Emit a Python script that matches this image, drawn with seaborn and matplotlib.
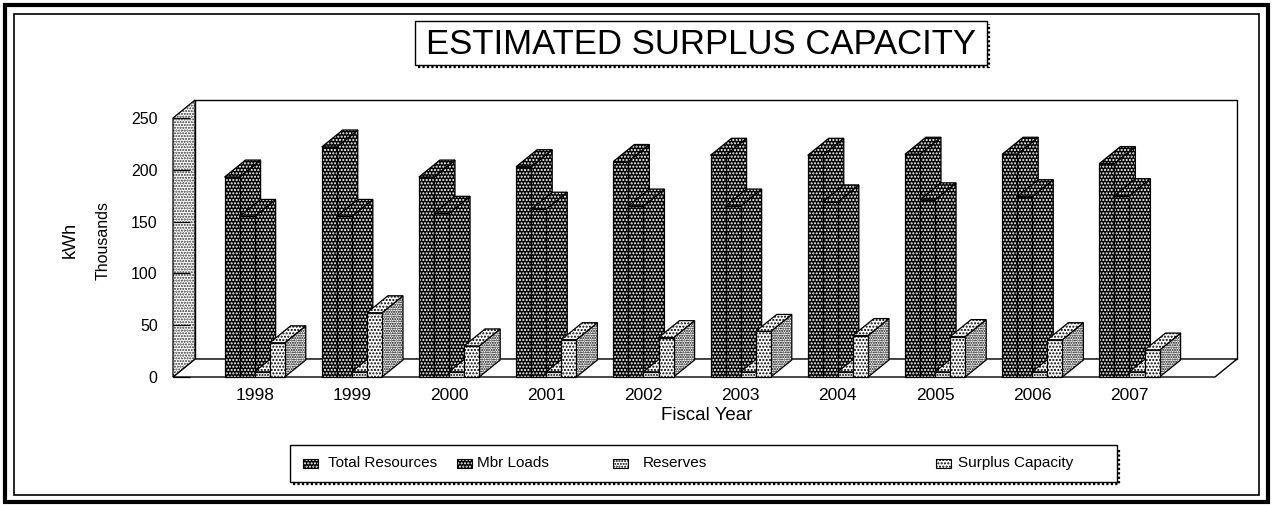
import matplotlib
matplotlib.use("Agg")
import matplotlib.pyplot as plt
from matplotlib.patches import Polygon, Rectangle
from matplotlib.lines import Line2D
import pandas as pd
import seaborn as sns

# ---- data (thousands of kWh) ----
years = ["1998", "1999", "2000", "2001", "2002", "2003", "2004", "2005", "2006", "2007"]
total_resources = [193, 222, 193, 203, 208, 214, 214, 215, 215, 206]
mbr_loads = [155, 155, 158, 162, 165, 165, 169, 171, 174, 175]
reserves = [5, 5, 5, 5, 5, 5, 5, 5, 5, 5]
surplus_capacity = [33, 62, 30, 36, 38, 44, 40, 39, 36, 26]
series_names = ["Total Resources", "Mbr Loads", "Reserves", "Surplus Capacity"]
y_ticks = [0, 50, 100, 150, 200, 250]

data = pd.DataFrame({
    "year": years,
    "Total Resources": total_resources,
    "Mbr Loads": mbr_loads,
    "Reserves": reserves,
    "Surplus Capacity": surplus_capacity,
}).melt(id_vars="year", var_name="series", value_name="kwh")

sns.set_theme(style="white")
plt.rcParams["font.family"] = ["Liberation Sans", "DejaVu Sans"]
plt.rcParams["hatch.linewidth"] = 1.0

# halftone-like face styles: (fill colour, dot colour, hatch)
front_style = {
    "Total Resources": ("#000000", "white", "....."),
    "Mbr Loads": ("#000000", "white", "....."),
    "Reserves": ("white", "black", "......"),
    "Surplus Capacity": ("white", "black", "....."),
}
side_style = {
    "Total Resources": ("#000000", "white", "....."),
    "Mbr Loads": ("#000000", "white", "....."),
    "Reserves": ("white", "black", "......."),
    "Surplus Capacity": ("white", "black", "......."),
}
top_style = {
    "Total Resources": ("#000000", "white", "....."),
    "Mbr Loads": ("#000000", "white", "....."),
    "Reserves": ("white", "black", "....."),
    "Surplus Capacity": ("white", "black", "....."),
}

W, H = 1273, 505
fig = plt.figure(figsize=(W / 100, H / 100), dpi=100)
fig.patch.set_facecolor("white")


def fx(px):
    return px / W


def fy(py):
    return 1 - py / H


# front plane of the 3-D box, in pixels
X0, X1 = 173, 1215
Y0, YTOP = 377, 118
YMAX = 250
ax = fig.add_axes([fx(X0), fy(Y0), (X1 - X0) / W, (Y0 - YTOP) / H])

bar_width = 0.62
sns.barplot(data=data, x="year", y="kwh", hue="series", order=years,
            hue_order=series_names, width=bar_width, saturation=1,
            palette=["#111111", "#222222", "#eeeeee", "#f5f5f5"],
            errorbar=None, legend=False, ax=ax)

xmin, xmax = -0.84, 9.88
ax.set_xlim(xmin, xmax)
ax.set_ylim(0, YMAX)
ax.patch.set_visible(False)
for s in ax.spines.values():
    s.set_visible(False)

ppx = (X1 - X0) / (xmax - xmin)   # pixels per x unit
ppy = (Y0 - YTOP) / YMAX          # pixels per y unit

# depth of the walls and of the columns
dxw, dyw = 22 / ppx, 18 / ppy
dxb, dyb = 21 / ppx, 17 / ppy


def face(verts, style, z, lw=0.9):
    fc, dc, hatch = style
    ax.add_patch(Polygon(verts, closed=True, facecolor=fc, edgecolor=dc,
                         hatch=hatch, linewidth=0, zorder=z, clip_on=False))
    ax.add_patch(Polygon(verts, closed=True, fill=False, edgecolor="black",
                         linewidth=lw, zorder=z + 0.0005, clip_on=False))


# back wall, floor and left wall
ax.add_patch(Rectangle((xmin + dxw, dyw), xmax - xmin, YMAX, facecolor="white",
                       edgecolor="black", linewidth=1.0, zorder=0.3, clip_on=False))
ax.add_patch(Polygon([(xmin, 0), (xmax, 0), (xmax + dxw, dyw), (xmin + dxw, dyw)],
                     closed=True, facecolor="white", edgecolor="black",
                     linewidth=1.0, zorder=0.4, clip_on=False))
face([(xmin, 0), (xmin + dxw, dyw), (xmin + dxw, YMAX + dyw), (xmin, YMAX)],
     ("white", "#333333", "......"), 0.5)

# turn the flat seaborn bars into solid columns
bars = [p for p in ax.patches if isinstance(p, Rectangle) and p.get_zorder() > 0.6
        and p.get_height() > 0]
bars.sort(key=lambda p: p.get_x())
sub_w = bar_width / len(series_names)
for rank, p in enumerate(bars):
    x, w, h = p.get_x(), p.get_width(), p.get_height()
    xc = x + w / 2
    k = int(round((xc - round(xc) + bar_width / 2) / sub_w - 0.5))
    name = series_names[k]
    z = 3 + rank * 0.01
    face([(x + w, 0), (x + w + dxb, dyb), (x + w + dxb, h + dyb), (x + w, h)],
         side_style[name], z)
    face([(x, h), (x + w, h), (x + w + dxb, h + dyb), (x + dxb, h + dyb)],
         top_style[name], z + 0.001)
    fc, dc, hatch = front_style[name]
    p.set_facecolor(fc)
    p.set_edgecolor(dc)
    p.set_hatch(hatch)
    p.set_linewidth(0)
    p.set_zorder(z + 0.002)
    ax.add_patch(Rectangle((x, 0), w, h, fill=False, edgecolor="black",
                           linewidth=0.9, zorder=z + 0.003, clip_on=False))

# axes text
ax.set_yticks(y_ticks)
ax.set_yticklabels([str(v) for v in y_ticks])
ax.tick_params(axis="y", direction="in", length=12, width=0.9, color="black",
               pad=11, labelsize=11.5, labelcolor="black", left=True)
ax.tick_params(axis="x", length=0, pad=8, labelsize=12.5, labelcolor="black")
ax.set_xlabel("")
ax.set_ylabel("")
fig.text(fx(707), fy(415), "Fiscal Year", ha="center", va="center",
         fontsize=13.5, color="black")
fig.text(fx(70), fy(240), "kWh", rotation=90, ha="center", va="center",
         fontsize=13, color="black")
fig.text(fx(103), fy(240), "Thousands", rotation=90, ha="center", va="center",
         fontsize=11.5, color="black")

# title box with dotted shadow
tl, tt, tr, tb = 415, 21, 987, 65
fig.patches.append(Rectangle((fx(tl), fy(tb)), (tr - tl) / W, (tb - tt) / H,
                             transform=fig.transFigure, facecolor="white",
                             edgecolor="black", linewidth=1.0, zorder=5))
fig.lines.append(Line2D([fx(tl + 3), fx(tr + 2), fx(tr + 2)],
                        [fy(tb + 2), fy(tb + 2), fy(tt + 3)],
                        transform=fig.transFigure, color="black",
                        linewidth=1.6, linestyle=(0, (1, 1)), zorder=4))
fig.text(fx((tl + tr) / 2), fy((tt + tb) / 2 + 1), "ESTIMATED SURPLUS CAPACITY",
         ha="center", va="center", fontsize=25, color="black", zorder=6)

# legend box with dotted shadow
ll, lt, lr, lb = 290, 445, 1117, 482
fig.patches.append(Rectangle((fx(ll), fy(lb)), (lr - ll) / W, (lb - lt) / H,
                             transform=fig.transFigure, facecolor="white",
                             edgecolor="black", linewidth=1.0, zorder=5))
fig.lines.append(Line2D([fx(ll + 3), fx(lr + 2), fx(lr + 2)],
                        [fy(lb + 2), fy(lb + 2), fy(lt + 3)],
                        transform=fig.transFigure, color="black",
                        linewidth=1.6, linestyle=(0, (1, 1)), zorder=4))
marker_x = [303, 457, 613, 936]
label_x = [328, 477, 643, 958]
ly = 463
for name, mx, tx in zip(series_names, marker_x, label_x):
    fc, dc, hatch = front_style[name]
    fig.patches.append(Rectangle((fx(mx), fy(ly + 4.5)), 15 / W, 9 / H,
                                 transform=fig.transFigure, facecolor=fc,
                                 edgecolor=dc, hatch=hatch, linewidth=0, zorder=6))
    fig.patches.append(Rectangle((fx(mx), fy(ly + 4.5)), 15 / W, 9 / H,
                                 transform=fig.transFigure, fill=False,
                                 edgecolor="black", linewidth=0.8, zorder=7))
    fig.text(fx(tx), fy(ly), name, ha="left", va="center", fontsize=11,
             color="black", zorder=7)

# double frame round the whole chart
fig.patches.append(Rectangle((fx(5), fy(502)), (W - 10) / W, (502 - 5) / H,
                             transform=fig.transFigure, fill=False,
                             edgecolor="black", linewidth=3.0, zorder=8))
fig.patches.append(Rectangle((fx(14), fy(495)), (W - 28) / W, (495 - 14) / H,
                             transform=fig.transFigure, fill=False,
                             edgecolor="black", linewidth=1.2, zorder=8))

fig.savefig("out.png", dpi=100, facecolor="white")
